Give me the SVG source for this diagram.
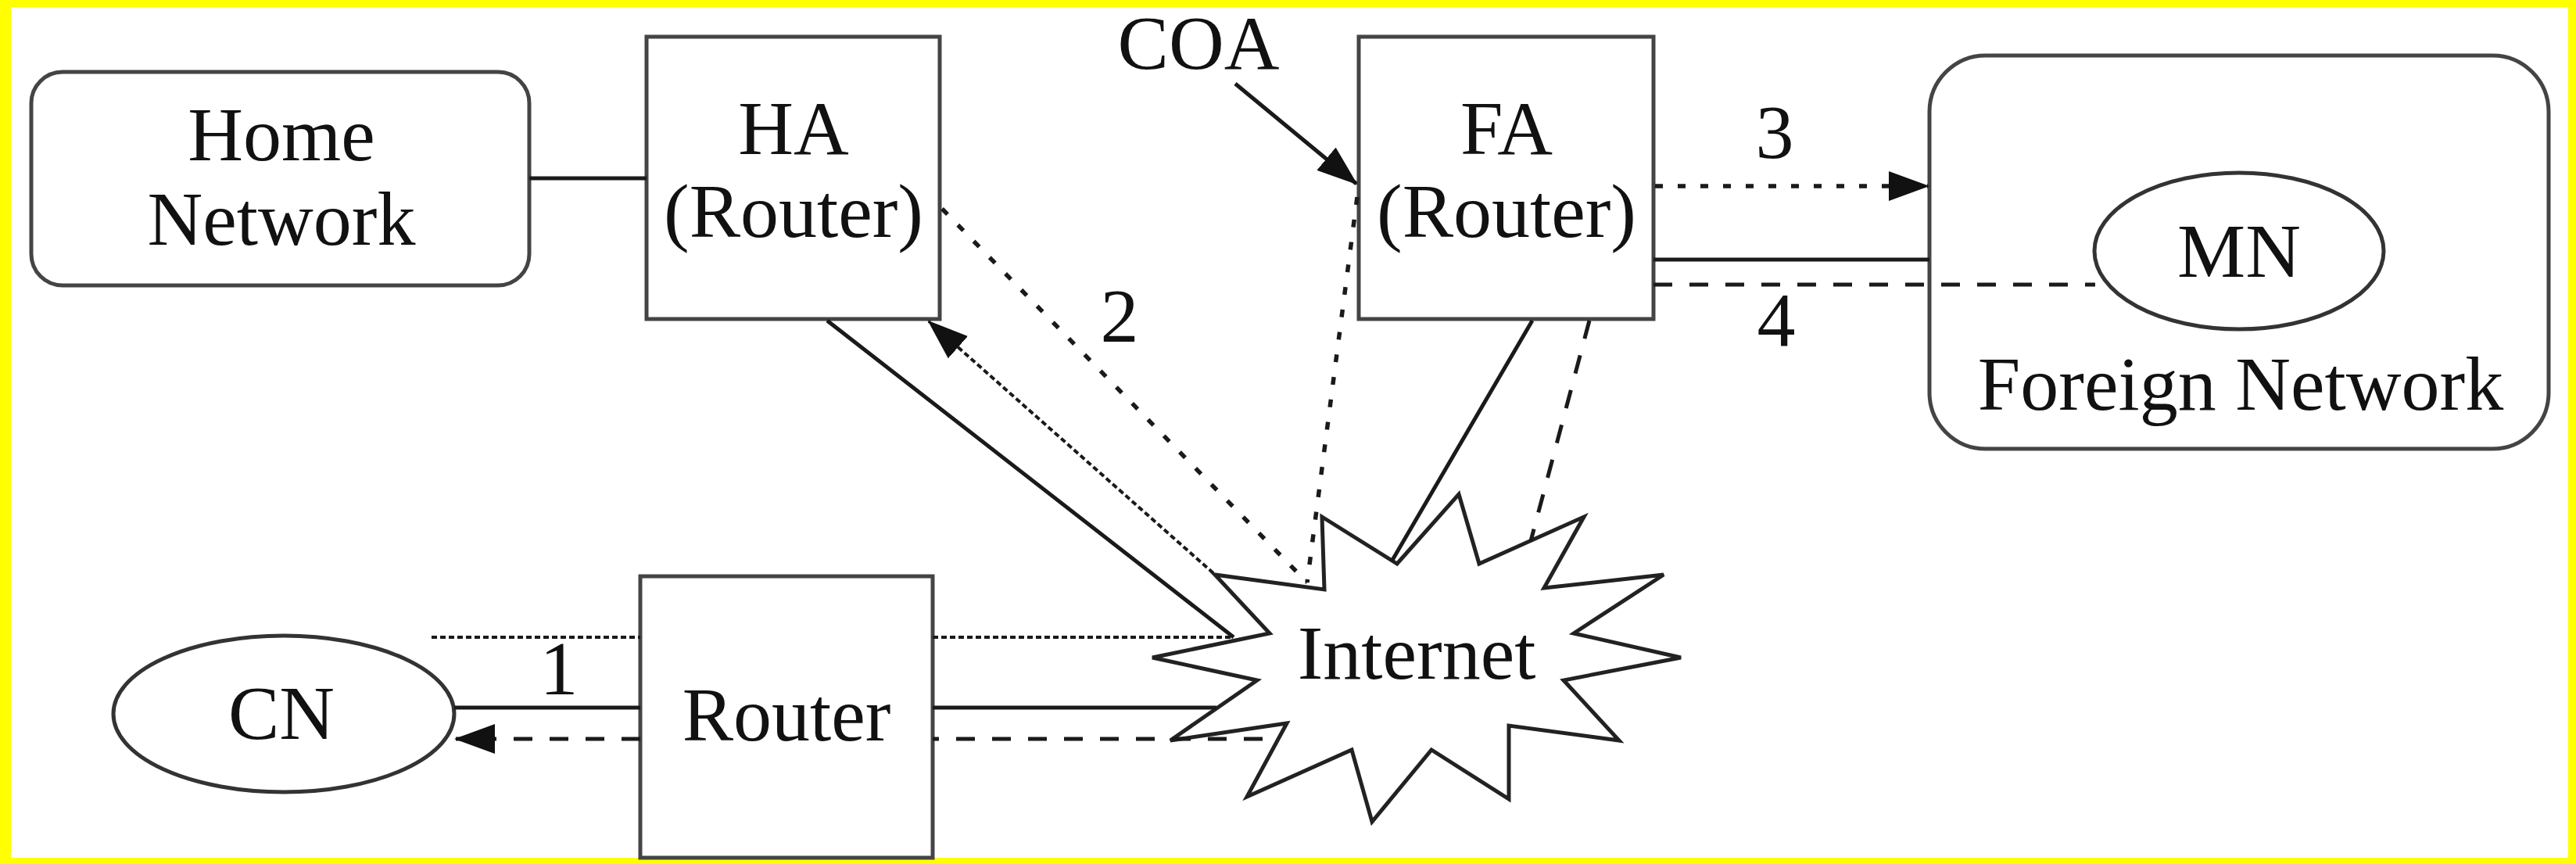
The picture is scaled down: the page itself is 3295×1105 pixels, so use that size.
<svg xmlns="http://www.w3.org/2000/svg" width="3295" height="1105" viewBox="0 0 3295 1105">
<style>
.box{fill:#fff;stroke:#444;stroke-width:5}
.t{font-family:"Liberation Serif","Times New Roman",serif;font-size:98px;fill:#111;text-anchor:middle}
.solid{fill:none;stroke:#1a1a1a;stroke-width:5}
.dotted{fill:none;stroke:#1a1a1a;stroke-width:5.5;stroke-dasharray:10 19}
.fine{fill:none;stroke:#1a1a1a;stroke-width:4;stroke-dasharray:7 4}
.dashed{fill:none;stroke:#1a1a1a;stroke-width:5;stroke-dasharray:24 22}
</style>
<defs>
<marker id="arr" markerUnits="userSpaceOnUse" markerWidth="52" markerHeight="38" viewBox="0 0 52 38" refX="50" refY="19" orient="auto">
<path d="M0,0 L52,19 L0,38 z" fill="#111"/>
</marker>
</defs>
<rect x="0" y="0" width="3295" height="1105" fill="#ffff00"/>
<rect x="14" y="9" width="3271" height="1088" fill="#fff"/>

<g id="home-network">
<rect class="box" x="40" y="92" width="637" height="273" rx="40" ry="40"/>
<text class="t" x="360" y="205">Home</text>
<text class="t" x="360" y="313">Network</text>
</g>
<g id="ha">
<rect class="box" x="827" y="47" width="375" height="361"/>
<text class="t" x="1015" y="197">HA</text>
<text class="t" x="1015" y="303">(Router)</text>
</g>
<g id="coa">
<text class="t" x="1533" y="88">COA</text>
</g>
<g id="fa">
<rect class="box" x="1738" y="47" width="377" height="361"/>
<text class="t" x="1927" y="197">FA</text>
<text class="t" x="1927" y="303">(Router)</text>
</g>
<g id="foreign-network">
<rect class="box" x="2468" y="71" width="792" height="503" rx="72" ry="72"/>
<text class="t" x="2866" y="524">Foreign Network</text>
</g>
<g id="mn">
<ellipse class="box" cx="2864" cy="321" rx="185" ry="100" style="stroke:#333"/>
<text class="t" x="2864" y="354">MN</text>
</g>
<g id="cn">
<ellipse class="box" cx="363" cy="913" rx="218" ry="100" style="stroke:#333"/>
<text class="t" x="360" y="945">CN</text>
</g>
<g id="router">
<rect class="box" x="819" y="737" width="374" height="360"/>
<text class="t" x="1006" y="947">Router</text>
</g>
<g id="internet">
<polygon points="1474,841 1624,810 1554,735 1694,754 1691,661 1787,721 1866,632 1892,721 2026,661 1975,752 2128,735 2013,810 2150,841 2000,870 2071,947 1930,928 1930,1022 1831,959 1755,1051 1729,959 1595,1019 1646,925 1497,947 1608,870" fill="#fff" stroke="#222" stroke-width="5" stroke-linejoin="miter"/>
<text class="t" x="1812" y="868">Internet</text>
</g>

<g id="connectors">
<line class="solid" x1="677" y1="228" x2="827" y2="228"/>
<line class="solid" x1="1580" y1="107" x2="1735" y2="235" marker-end="url(#arr)"/>
<line class="solid" x1="1058" y1="410" x2="1578" y2="815"/>
<line class="fine" x1="1552" y1="733" x2="1188" y2="411" marker-end="url(#arr)"/>
<line class="dotted" x1="1205" y1="267" x2="1672" y2="745"/>
<line class="dotted" x1="1736" y1="252" x2="1672" y2="745"/>
<line class="solid" x1="1960" y1="410" x2="1780" y2="718"/>
<line class="dashed" x1="2033" y1="410" x2="1958" y2="692"/>
<line class="dotted" x1="2117" y1="238" x2="2466" y2="238" marker-end="url(#arr)"/>
<line class="solid" x1="2115" y1="332" x2="2468" y2="332"/>
<line class="dashed" x1="2115" y1="364" x2="2680" y2="364"/>
<line class="fine" x1="552" y1="815" x2="819" y2="815"/>
<line class="fine" x1="1193" y1="815" x2="1576" y2="815"/>
<line class="solid" x1="581" y1="905" x2="819" y2="905"/>
<line class="solid" x1="1193" y1="905" x2="1556" y2="905"/>
<line class="dashed" x1="1615" y1="945" x2="1193" y2="945"/>
<line class="dashed" x1="819" y1="945" x2="583" y2="945" marker-end="url(#arr)"/>
<text class="t" x="715" y="888">1</text>
<text class="t" x="1432" y="437">2</text>
<text class="t" x="2270" y="202">3</text>
<text class="t" x="2272" y="442">4</text>
</g>
</svg>
